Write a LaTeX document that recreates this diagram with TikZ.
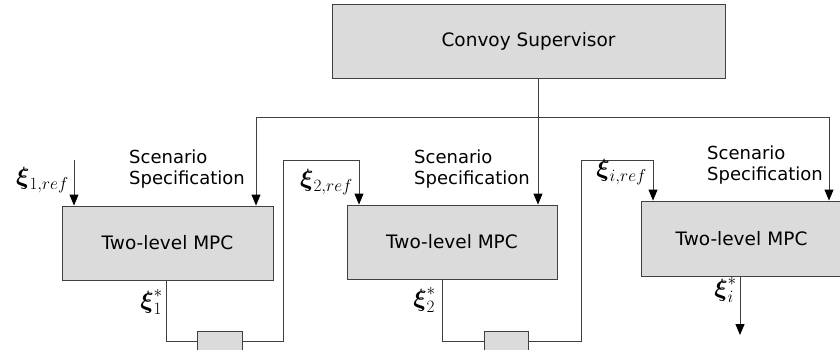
\documentclass[tikz,border=0pt]{standalone}
\usepackage{amsmath}
\usepackage{fontspec}
\setmainfont{DejaVu Sans}
\usetikzlibrary{arrows.meta}
\begin{document}
\begin{tikzpicture}[x=1pt,y=-1pt,
  every node/.style={font=\fontsize{18.5}{22}\selectfont},
  blk/.style={draw=black!75, fill=black!14, line width=0.9pt, inner sep=0pt},
  wire/.style={draw=black!75, line width=0.9pt},
  arr/.style={wire, -{Triangle[length=11pt,width=9pt,color=black]}},
  lbl/.style={inner sep=0pt, font=\fontsize{25}{29}\selectfont},
  scen/.style={inner sep=0pt, align=left, anchor=north west, font=\fontsize{18}{21}\selectfont}]
\useasboundingbox (0,0) rectangle (840,349);
\clip (0,0) rectangle (840,349);
% blocks
\node[blk, minimum width=393pt, minimum height=74pt] (cs) at (528.5,41) {Convoy Supervisor};
\node[blk, minimum width=211pt, minimum height=74pt] (b1) at (167.5,243) {Two-level MPC};
\node[blk, minimum width=210pt, minimum height=74pt] (b2) at (452,242) {Two-level MPC};
\node[blk, minimum width=214pt, minimum height=75pt, text width=199pt, align=left] (b3) at (748,238.5) {\hspace*{27pt}Two-level MPC};
\node[blk, minimum width=45pt, minimum height=30pt] (d1) at (219.5,346) {};
\node[blk, minimum width=44pt, minimum height=30pt] (d2) at (506,346) {};
% coordinates
\coordinate (s1) at (256,117);
\coordinate (s3) at (829,117);
\coordinate (r1) at (74,160);
\coordinate (o1) at (166,341);
\coordinate (u2) at (283,341);
\coordinate (t2) at (283,160);
\coordinate (a2) at (359,160);
\coordinate (o2) at (442,341);
\coordinate (u3) at (581,341);
\coordinate (t3) at (581,160);
\coordinate (a3) at (653,160);
\coordinate (o3) at (740,335);
% supervisor wires
\draw[arr] (cs.south -| 538,0) -- (b2.north -| 538,0);
\draw[wire] (s1) -- (s3);
\draw[arr] (s1) -- (s1 |- b1.north);
\draw[arr] (s3) -- (s3 |- b3.north);
% references
\draw[arr] (r1) -- (r1 |- b1.north);
\draw[wire] (b1.south -| o1) -- (o1) -- (o1 -| d1.west);
\draw[wire] (u2 -| d1.east) -- (u2) -- (t2) -- (a2);
\draw[arr] (a2) -- (a2 |- b2.north);
\draw[wire] (b2.south -| o2) -- (o2) -- (o2 -| d2.west);
\draw[wire] (u3 -| d2.east) -- (u3) -- (t3) -- (a3);
\draw[arr] (a3) -- (a3 |- b3.north);
\draw[arr] (b3.south -| o3) -- (o3);
% labels
\node[scen] (sc1) at (129,150) {Scenario\\Specification};
\node[scen] (sc2) at (414,150) {Scenario\\Specification};
\node[scen] (sc3) at (707,146) {Scenario\\Specification};
\node[lbl, anchor=east] (l1) at (69,180) {$\boldsymbol{\xi}_{1,ref}$};
\node[lbl, anchor=east] (l2) at (353,182) {$\boldsymbol{\xi}_{2,ref}$};
\node[lbl, anchor=east] (l3) at (647,172) {$\boldsymbol{\xi}_{i,ref}$};
\node[lbl, anchor=east] (m1) at (163,302) {$\boldsymbol{\xi}_1^*$};
\node[lbl, anchor=east] (m2) at (436,300) {$\boldsymbol{\xi}_2^*$};
\node[lbl, anchor=east] (m3) at (737,290) {$\boldsymbol{\xi}_i^*$};
\end{tikzpicture}
\end{document}
